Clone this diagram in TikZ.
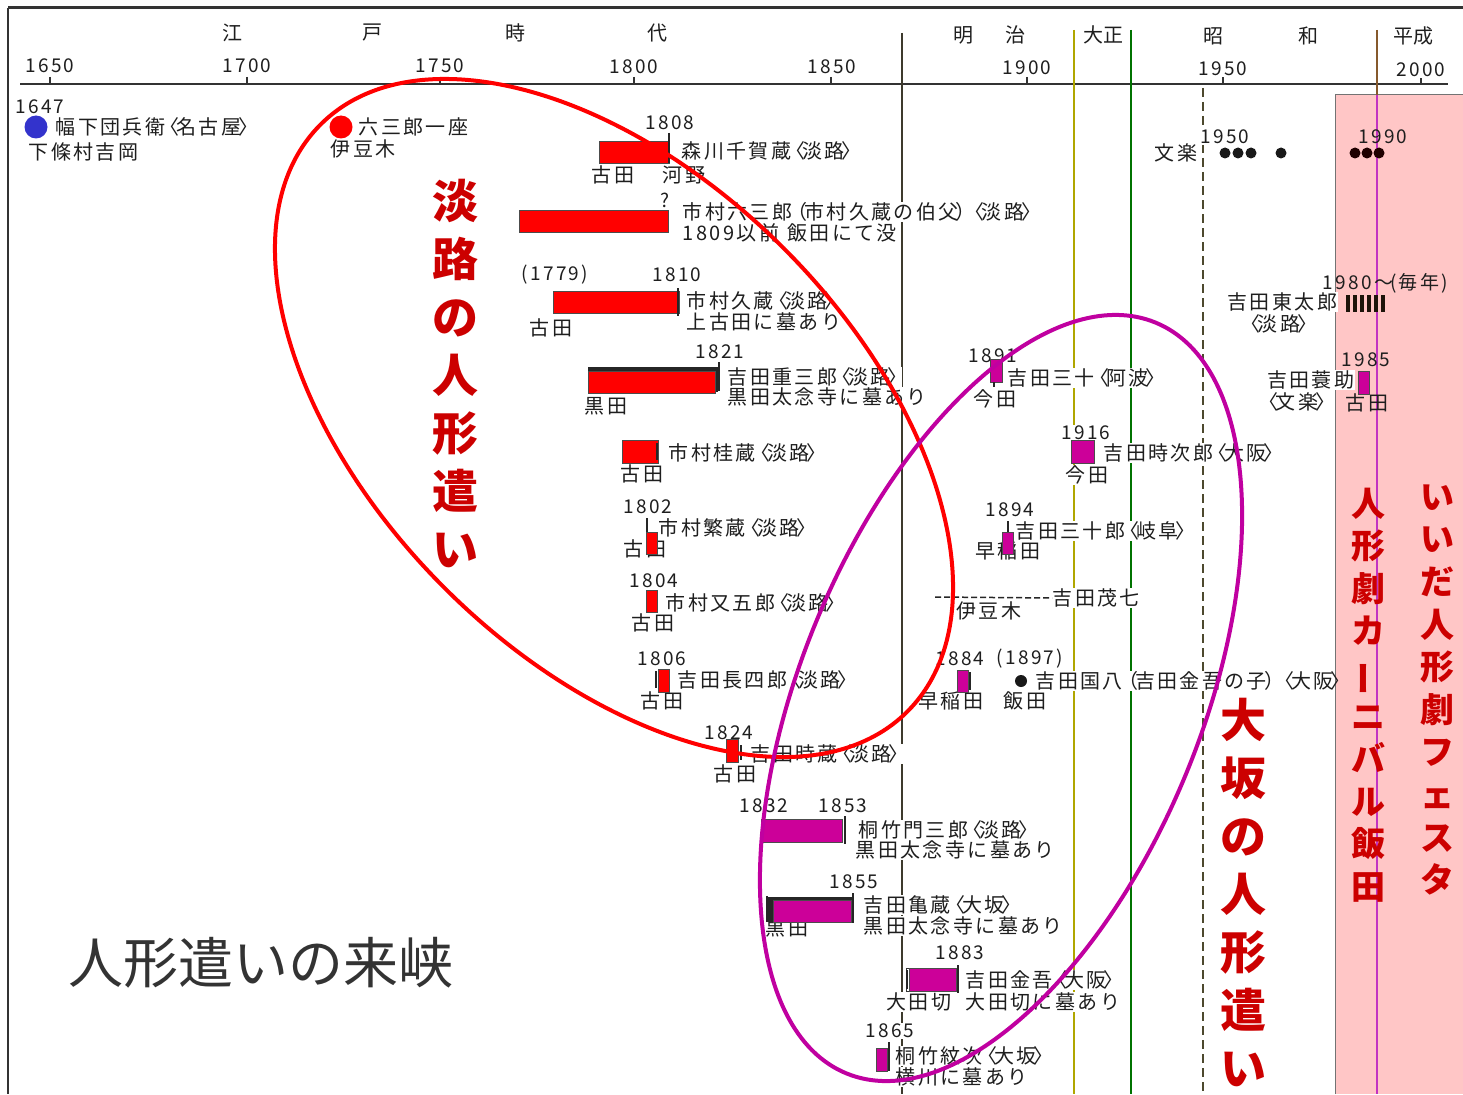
\documentclass[tikz,border=0pt]{standalone}
\usepackage{fontspec}
\usepackage{graphicx}
\newfontfamily\jp[LetterSpace=12]{Noto Sans CJK JP}
\newfontfamily\jpn{Noto Sans CJK JP}
\definecolor{txtc}{HTML}{1E1E1E}
\definecolor{barred}{HTML}{FF0000}
\definecolor{barmag}{HTML}{CC0099}
\definecolor{ellmag}{HTML}{C000A0}
\definecolor{lblred}{HTML}{CC0000}
\definecolor{pinkbg}{HTML}{FFC6C6}
\definecolor{bluedot}{HTML}{3333CC}
\newcommand\lb{\kern-6pt〈\kern-3pt}
\newcommand\rb{\kern-3pt〉\kern-6pt}
\newcommand\lp{\kern-5pt（\kern-3pt}
\newcommand\rp{\kern-3pt）\kern-5pt}
\begin{document}
\begin{tikzpicture}[x=1pt,y=-1pt,
  lbl/.style={font=\jp\fontsize{20}{22}\selectfont, text=txtc, inner sep=0.6pt, fill=white, anchor=west},
  lblc/.style={lbl, anchor=center},
  lble/.style={lbl, anchor=east},
  lbln/.style={lbl, fill=none},
  yr/.style={font=\jp\fontsize{19}{21}\selectfont, text=txtc, inner sep=0.6pt, fill=white},
  yrn/.style={yr, fill=none},
  era/.style={font=\jpn\fontsize{20}{22}\selectfont, text=txtc, inner sep=0pt},
  rbar/.style={draw=black!70, line width=0.8pt, fill=barred},
  mbar/.style={draw=black!70, line width=0.8pt, fill=barmag},
  tk/.style={line width=2.4pt, draw=black!85},
  thintk/.style={line width=1.4pt, draw=black!85},
  bigred/.style={font=\jpn\bfseries\fontsize{46}{58}\selectfont, text=lblred, align=center, inner sep=0pt},
  pinkred/.style={font=\jpn\bfseries\fontsize{34}{42.6}\selectfont, text=lblred, align=center, inner sep=0pt},
  eraline/.style={line width=1.4pt},
]
\useasboundingbox (0,0) rectangle (1463,1094);
\fill[white] (0,0) rectangle (1463,1094);
% pink festival region
\fill[pinkbg] (1335,95) rectangle (1463,1094);
\draw[black!55, line width=1pt] (1335,1094) -- (1335,95) -- (1463,95);
% frame
\draw[black!80, line width=3pt] (8,8) -- (1463,8);
\draw[black!80, line width=2.5pt] (8,8) -- (8,1094);
% axis
\draw[black!80, line width=1.8pt] (20,84) -- (1448,84);
\foreach \x in {50,247,440,634,831,1027,1223,1421} \draw[black!80, line width=1.5pt] (\x,77) -- (\x,84);
% era lines
\draw[eraline, draw=black!75!olive] (902,33) -- (902,1094);
\draw[eraline, draw=olive!70!yellow] (1074,30) -- (1074,1094);
\draw[eraline, draw=green!45!black] (1131,30) -- (1131,1094);
\draw[eraline, draw=black!60!olive, dash pattern=on 9pt off 5pt] (1203,88) -- (1203,1094);
\draw[eraline, draw=brown!70!black] (1377,30) -- (1377,95);
\draw[eraline, draw=violet!60!magenta!80] (1377,95) -- (1377,1094);
% axis labels
\node[yr] (a1650) at (50,66) {1650};
\node[yr] (a1700) at (247,66) {1700};
\node[yr] (a1750) at (440,66) {1750};
\node[yr] (a1800) at (634,67) {1800};
\node[yr] (a1850) at (832,67) {1850};
\node[yr] (a1900) at (1027,68) {1900};
\node[yr] (a1950) at (1223,69) {1950};
\node[yr] (a2000) at (1421,70) {2000};
\node[era] (e1) at (232,33) {江};
\node[era] (e2) at (372,33) {戸};
\node[era] (e3) at (515,33) {時};
\node[era] (e4) at (657,33) {代};
\node[era] (e5) at (963,35) {明};
\node[era] (e6) at (1015,35) {治};
\node[era] (e7) at (1103,35) {大正};
\node[era] (e8) at (1213,36) {昭};
\node[era] (e9) at (1308,36) {和};
\node[era] (e10) at (1413,36) {平成};
% E1
\node[yr] (y1647) at (40,107) {1647};
\fill[bluedot] (36,127) circle[radius=11.5pt];
\node[lbl] (t1a) at (55,127) {幅下団兵衛\lb 名古屋\rb};
\node[lbl] (t1b) at (28,152) {下條村吉岡};
% E2
\fill[barred] (341,127) circle[radius=11.5pt];
\node[lbl] (t2a) at (358,127) {六三郎一座};
\node[lbl] (t2b) at (330,149) {伊豆木};
% E3
\node[yr] (y1808) at (670,123) {1808};
\node[lbl] (t3a) at (681,151) {森川千賀蔵\lb 淡路\rb};
\node[lblc] (t3b) at (613,175) {古田};
\node[lblc] (t3c) at (684,175) {河野};
% E4
\node[yr] (yq) at (665,200) {?};
\node[lbl] (t4a) at (682,212) {市村六三郎\lp 市村久蔵の伯父\rp\lb 淡路\rb};
\node[lbl] (t4b) at (682,233) {1809以前\hspace{8pt}飯田にて没};
% E5
\node[yr] (y1779) at (555,275) {(1779)};
\node[yr] (y1810) at (677,275) {1810};
\node[lbl] (t5a) at (686,301) {市村久蔵\lb 淡路\rb};
\node[lbl] (t5b) at (686,322) {上古田に墓あり};
\node[lblc] (t5c) at (551,328) {古田};
% E6
\node[yr] (y1821) at (720,352) {1821};
\node[lbl] (t6a) at (727,377) {吉田重三郎\lb 淡路\rb};
\node[lbl] (t6b) at (727,397) {黒田太念寺に墓あり};
\node[lblc] (t6c) at (606,406) {黒田};
% E7
\node[lbl] (t7a) at (668,453) {市村桂蔵\lb 淡路\rb};
\node[lblc] (t7b) at (642,474) {古田};
% E8
\node[yr] (y1802) at (648,507) {1802};
\node[lbl] (t8a) at (658,528) {市村繁蔵\lb 淡路\rb};
\node[lblc] (t8b) at (645,549) {古田};
% E9
\node[yr] (y1804) at (654,581) {1804};
\node[lbl] (t9a) at (665,603) {市村又五郎\lb 淡路\rb};
\node[lblc] (t9b) at (653,623) {古田};
% E10
\node[yr] (y1806) at (662,659) {1806};
\node[lbl] (t10a) at (677,680) {吉田長四郎\lb 淡路\rb};
\node[lblc] (t10b) at (662,701) {古田};
% E11
\node[yr] (y1824) at (729,733) {1824};
\node[lbl] (t11a) at (750,754) {吉田時蔵\lb 淡路\rb};
\node[lblc] (t11b) at (735,774) {古田};
% E12
\node[yr] (y1832) at (764,806) {1832};
\node[yr] (y1853) at (843,806) {1853};
\node[lbl] (t12a) at (858,830) {桐竹門三郎\lb 淡路\rb};
\node[lbl] (t12b) at (855,850) {黒田太念寺に墓あり};
% E13
\node[yr] (y1855) at (854,882) {1855};
\node[lbl] (t13a) at (863,905) {吉田亀蔵\lb 大坂\rb};
\node[lbl] (t13b) at (863,926) {黒田太念寺に墓あり};
\node[lblc] (t13c) at (787,928) {黒田};
% E14
\node[yr] (y1883) at (960,953) {1883};
\node[lbl] (t14a) at (965,980) {吉田金吾\lb 大阪\rb};
\node[lblc] (t14b) at (919,1002) {大田切};
\node[lbl] (t14c) at (965,1002) {大田切に墓あり};
% E15
\node[yr] (y1865) at (890,1031) {1865};
\node[lbl] (t15a) at (895,1056) {桐竹紋次\lb 大坂\rb};
\node[lbl] (t15b) at (895,1077) {横川に墓あり};
% E16
\node[yr] (y1891) at (993,356) {1891};
\node[lbl] (t16a) at (1007,378) {吉田三十\lb 阿波\rb};
\node[lblc] (t16b) at (995,399) {今田};
% E17
\node[yr] (y1916) at (1086,433) {1916};
\node[lbl] (t17a) at (1103,453) {吉田時次郎\lb 大阪\rb};
\node[lblc] (t17b) at (1087,475) {今田};
% E18
\node[yr] (y1894) at (1010,510) {1894};
\node[lbl] (t18a) at (1015,531) {吉田三十郎\lb 岐阜\rb};
\node[lblc] (t18b) at (1008,551) {早稲田};
% E19
\node[lbl] (t19a) at (1052,598) {吉田茂七};
\node[lblc] (t19b) at (989,611) {伊豆木};
\coordinate (c19) at (935,597);
\draw[black!85, line width=1.5pt, dash pattern=on 6pt off 3pt] (c19) -- (t19a.west);
% E20
\node[yr] (y1884) at (960,659) {1884};
\node[yr] (y1897) at (1030,659) {(1897)};
\node[lbl] (t20a) at (1035,681) {吉田国八\lp 吉田金吾の子\rp};
\node[lbln, anchor=west, inner sep=0pt] (t20b) at (t20a.east) {\lb 大阪\rb};
\node[lblc] (t20c) at (951,701) {早稲田};
\node[lblc] (t20d) at (1025,701) {飯田};
\fill[black!90] (1021,681) circle[radius=6pt];
% E21 bunraku
\node[yr] (y1950) at (1225,137) {1950};
\node[lblc] (t21a) at (1176,153) {文楽};
\foreach \x in {1225,1238,1251,1281} \fill[black!90] (\x,153) circle[radius=5.5pt];
% E22
\node[yrn] (y1990) at (1383,137) {1990};
\foreach \x in {1355,1367,1379} \fill[black!80!red!60!black] (\x,153) circle[radius=5.5pt];
% E23
\node[lbln, font=\jp\fontsize{19}{21}\selectfont] (t23a) at (1322,283) {1980～\hspace{-3pt}(毎年)};
\node[lble] (t23b) at (1338,302) {吉田東太郎};
\node[lblc] (t23c) at (1279,324) {\lb 淡路\rb};
\foreach \x in {1346,1353,1360,1367,1374,1381} \fill[black!85!brown] (\x,295) rectangle (\x+4,312);
% E24
\node[yrn] (y1985) at (1366,360) {1985};
\node[lble] (t24a) at (1355,380) {吉田蓑助};
\node[lblc] (t24b) at (1297,402) {\lb 文楽\rb};
\node[lbln, anchor=center] (t24c) at (1367,403) {古田};
% ---- bars ----
\draw[rbar] (599,141) rectangle (669,163);
\draw[thintk] (669,133) -- (669,163);
\draw[rbar] (519,210) rectangle (668,232);
\draw[rbar] (553,291) rectangle (679,313);
\draw[thintk] (678,288) -- (678,316);
\fill[black!85] (588,367) rectangle (718,392);
\draw[rbar] (588,371) rectangle (715,393);
\draw[tk] (719,362) -- (719,391);
\draw[rbar] (622,440) rectangle (658,463);
\draw[tk] (657,443) -- (657,460);
\draw[tk] (647,518) -- (647,534);
\draw[rbar] (646,532) rectangle (657,554);
\draw[rbar] (646,590) rectangle (657,612);
\draw[tk] (656,671) -- (656,688);
\draw[rbar] (658,669) rectangle (669,692);
\draw[tk] (741,745) -- (741,760);
\draw[rbar] (726,739) rectangle (738,762);
\draw[mbar] (761,819) rectangle (842,842);
\draw[tk] (845,816) -- (845,844);
\fill[black!85] (766,897) rectangle (853,922);
\draw[mbar] (773,900) rectangle (851,922);
\draw[tk] (767,896) -- (767,913);
\draw[tk] (853,893) -- (853,923);
\draw[black!80, line width=1pt] (906,968) rectangle (957,991);
\draw[mbar] (909,968) rectangle (956,991);
\draw[tk] (907,970) -- (907,989);
\draw[tk] (958,965) -- (958,993);
\draw[mbar] (876,1048) rectangle (887,1071);
\draw[tk] (889,1042) -- (889,1071);
\draw[mbar] (990,359) rectangle (1002,382);
\draw[tk] (994,382) -- (994,387);
\draw[mbar] (1071,440) rectangle (1094,463);
\draw[tk] (1008,521) -- (1008,533);
\draw[mbar] (1002,532) rectangle (1013,554);
\draw[mbar] (957,670) rectangle (968,692);
\draw[tk] (970,672) -- (970,690);
\draw[mbar] (1358,371) rectangle (1369,394);
% ---- ellipses ----
\draw[barred, line width=4pt, rotate around={-45:(614,418)}] (614,418) ellipse[x radius=415pt, y radius=240pt];
\draw[ellmag, line width=4pt, rotate around={67.6:(1001,698)}] (1001,698) ellipse[x radius=406pt, y radius=200pt];
% ---- big labels ----
\node[bigred] (awaji) at (455,373) {淡\\路\\の\\人\\形\\遣\\い};
\node[bigred] (osaka) at (1243,892) {大\\坂\\の\\人\\形\\遣\\い};
\node[pinkred] (carnival) at (1368,695) {人\\形\\劇\\カ\\\rotatebox[origin=c]{90}{ー}\\ニ\\バ\\ル\\飯\\田};
\node[pinkred] (festa) at (1437,690) {い\\い\\だ\\人\\形\\劇\\フ\\ェ\\ス\\タ};
\node[font=\jpn\fontsize{55}{60}\selectfont, text=black!80, anchor=west, inner sep=0pt] (title) at (68,963) {人形遣いの来峡};
\end{tikzpicture}
\end{document}
